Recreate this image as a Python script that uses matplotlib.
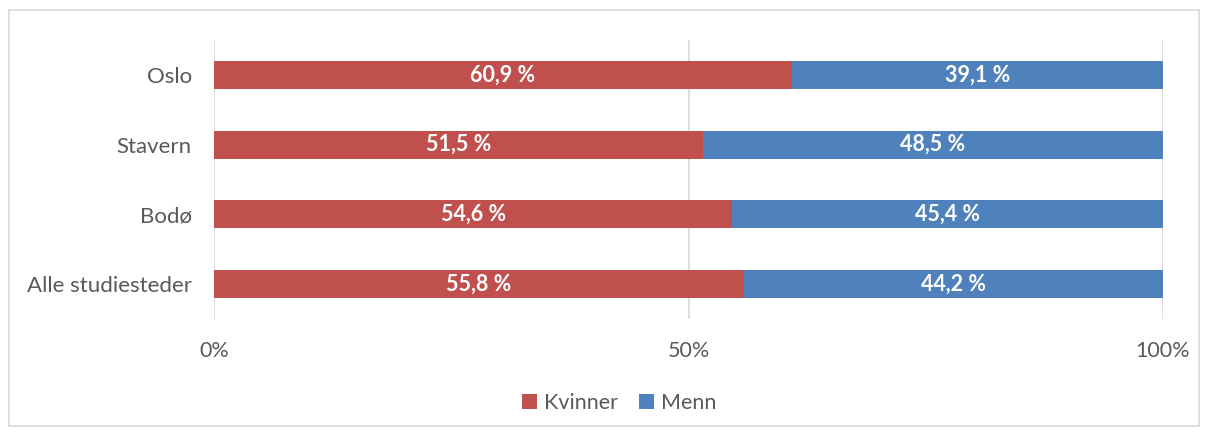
import matplotlib
matplotlib.use("Agg")
import matplotlib.pyplot as plt
from matplotlib.patches import Rectangle

# data
categories = ["Alle studiesteder", "Bodø", "Stavern", "Oslo"]
kvinner = [55.8, 54.6, 51.5, 60.9]
menn = [44.2, 45.4, 48.5, 39.1]
xtick_values = [0, 50, 100]
xtick_labels = ["0%", "50%", "100%"]

RED = "#C0504D"
BLUE = "#4F81BD"
TEXT = "#595959"
GRIDC = "#D9D9D9"

plt.rcParams["font.family"] = ["Lato", "DejaVu Sans"]

fig = plt.figure(figsize=(12.08, 4.34), dpi=100)
ax = fig.add_axes([214 / 1208, 1 - 319 / 434, (1163 - 214) / 1208, (319 - 40) / 434])

ypos = list(range(len(categories)))
bars_k = ax.barh(ypos, kvinner, height=0.4, color=RED, label="Kvinner", zorder=3)
bars_m = ax.barh(ypos, menn, left=kvinner, height=0.4, color=BLUE, label="Menn", zorder=3)

for bars in (bars_k, bars_m):
    ax.bar_label(bars, labels=[f"{b.get_width():.1f} %".replace(".", ",") for b in bars],
                 label_type="center", color="white", fontweight="bold", fontsize=15.5)

ax.set_xlim(0, 100)
ax.set_ylim(-0.5, len(categories) - 0.5)
ax.set_xticks(xtick_values)
ax.set_xticklabels(xtick_labels)
ax.set_yticks(ypos)
ax.set_yticklabels(categories)
ax.tick_params(axis="both", length=0, labelsize=16, labelcolor=TEXT)
ax.tick_params(axis="x", labelsize=15.5, pad=16)
ax.tick_params(axis="y", pad=16)
ax.grid(axis="x", color=GRIDC, linewidth=1.2, zorder=0)
for s in ax.spines.values():
    s.set_visible(False)

leg = fig.legend(loc="center", bbox_to_anchor=(619 / 1208, 1 - 403 / 434), ncol=2, frameon=False,
                 fontsize=15.5, handlelength=0.7, handleheight=0.7, handletextpad=0.3,
                 columnspacing=1.0, labelcolor=TEXT)

fig.patches.append(Rectangle((9 / 1208, 1 - 426 / 434), 1190 / 1208, 416 / 434,
                             transform=fig.transFigure, fill=False, edgecolor=GRIDC, linewidth=1.2))

fig.savefig("out.png", dpi=100)
